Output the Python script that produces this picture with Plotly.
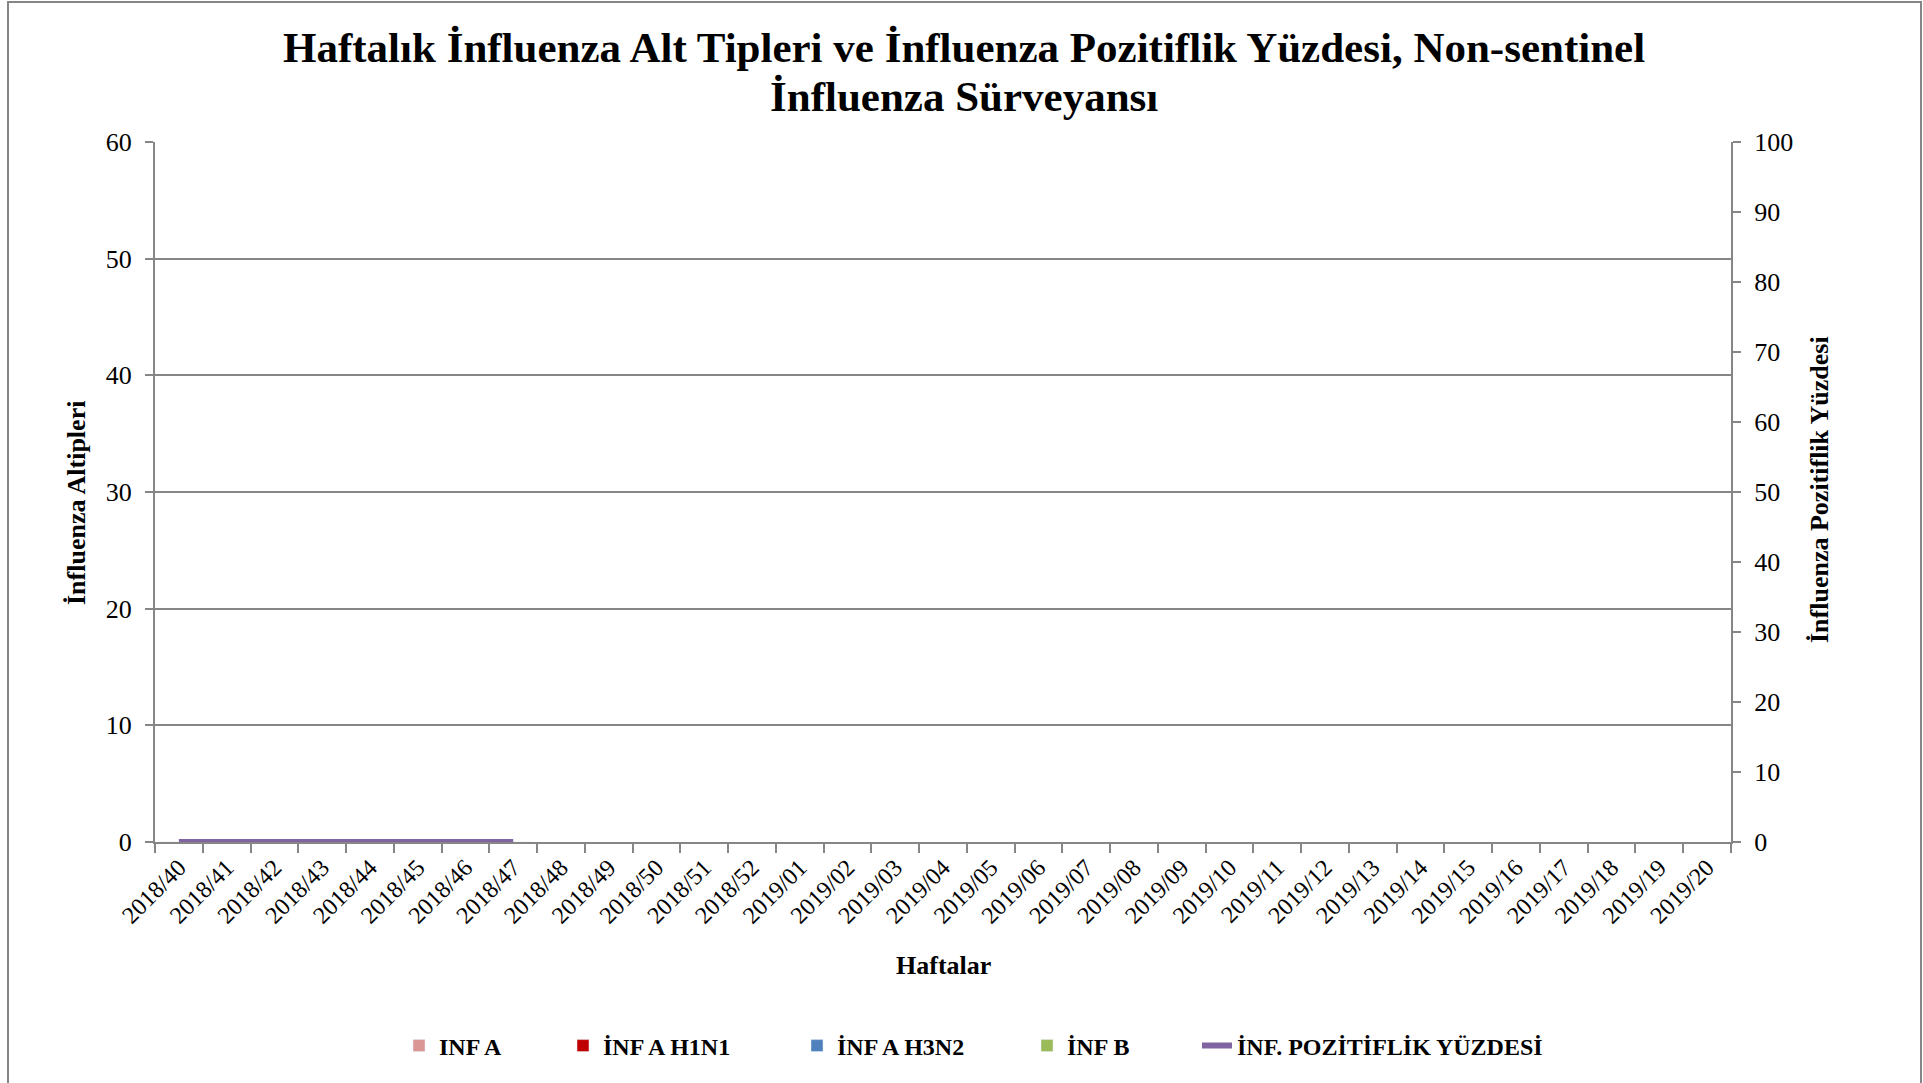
import plotly.graph_objects as go

weeks = [f"2018/{w}" for w in range(40, 53)] + [f"2019/{w:02d}" for w in range(1, 21)]

inf_a = [0, 0, 0, 0, 0, 0, 0, 0] + [None] * 25
inf_a_h1n1 = [0, 0, 0, 0, 0, 0, 0, 0] + [None] * 25
inf_a_h3n2 = [0, 0, 0, 0, 0, 0, 0, 0] + [None] * 25
inf_b = [0, 0, 0, 0, 0, 0, 0, 0] + [None] * 25
positivity = [0, 0, 0, 0, 0, 0, 0, 0] + [None] * 25

title_lines = ["Haftalık İnfluenza Alt Tipleri ve İnfluenza Pozitiflik Yüzdesi, Non-sentinel",
               "İnfluenza Sürveyansı"]

FONT = "Liberation Serif"
GRAY = "#868686"

L, R, T, B = 155, 192, 142, 241
W, H = 1923, 1083
pw = W - L - R
ph = H - T - B

def px(x):
    return (x - L) / pw

def py(y):
    return (H - B - y) / ph

fig = go.Figure()
fig.add_bar(x=weeks, y=inf_a, name="INF A", marker_color="#D99694", legend="legend")
fig.add_bar(x=weeks, y=inf_a_h1n1, name="İNF A H1N1", marker_color="#C00000", legend="legend2")
fig.add_bar(x=weeks, y=inf_a_h3n2, name="İNF A H3N2", marker_color="#4F81BD", legend="legend3")
fig.add_bar(x=weeks, y=inf_b, name="İNF B", marker_color="#9BBB59", legend="legend4")
fig.add_scatter(x=weeks, y=positivity, name="İNF. POZİTİFLİK YÜZDESİ", yaxis="y2",
                mode="lines", line=dict(color="#8064A2", width=6), connectgaps=False,
                legend="legend5")

text_starts = [441, 605, 839, 1069, 1239]
legends = {}
for i, xs in enumerate(text_starts):
    key = "legend" if i == 0 else f"legend{i + 1}"
    legends[key] = dict(orientation="h", x=px(xs - 42), xanchor="left", y=py(1046), yanchor="middle",
                        font=dict(size=24, weight="bold"), bgcolor="rgba(0,0,0,0)")

fig.update_layout(
    width=W, height=H,
    margin=dict(l=L, r=R, t=T, b=B, autoexpand=False),
    paper_bgcolor="white", plot_bgcolor="white",
    font=dict(family=FONT, color="black", size=24),
    barmode="group",
    xaxis=dict(type="category", tickson="boundaries", ticks="outside", ticklen=9, tickcolor=GRAY,
               tickwidth=2, showline=True, linecolor=GRAY, linewidth=2, tickangle=-45,
               tickfont=dict(size=24), showgrid=False),
    yaxis=dict(range=[0, 60], dtick=10, ticks="outside", ticklen=8, tickcolor=GRAY, tickwidth=2,
               showline=True, linecolor=GRAY, linewidth=2, showgrid=True, gridcolor=GRAY,
               gridwidth=2, zeroline=False, tickfont=dict(size=26), ticklabelstandoff=8),
    yaxis2=dict(range=[0, 100], dtick=10, overlaying="y", side="right", ticks="outside", ticklen=8,
                tickcolor=GRAY, tickwidth=2, showline=True, linecolor=GRAY, linewidth=2,
                showgrid=False, zeroline=False, tickfont=dict(size=26), ticklabelstandoff=8),
    showlegend=True,
    **legends,
)

for line, yc in zip(title_lines, [47, 96]):
    fig.add_annotation(text=line, xref="paper", yref="paper", x=px(964), y=py(yc),
                       xanchor="center", yanchor="middle",
                       showarrow=False, font=dict(size=43, weight="bold"))
fig.add_annotation(text="Haftalar", xref="paper", yref="paper", x=0.5, y=py(965),
                   xanchor="center", yanchor="middle",
                   showarrow=False, font=dict(size=26, weight="bold"))
fig.add_annotation(text="İnfluenza Altipleri", xref="paper", yref="paper", x=px(76), y=py(503),
                   xanchor="center", yanchor="middle",
                   showarrow=False, textangle=-90, font=dict(size=26, weight="bold"))
fig.add_annotation(text="İnfluenza Pozitiflik Yüzdesi", xref="paper", yref="paper", x=px(1819), y=py(490),
                   xanchor="center", yanchor="middle",
                   showarrow=False, textangle=-90, font=dict(size=26, weight="bold"))

fig.add_shape(type="rect", xref="paper", yref="paper", x0=px(8), x1=px(1921), y0=py(1095), y1=py(2),
              line=dict(color=GRAY, width=2), fillcolor="rgba(0,0,0,0)", layer="below")

fig.write_html("out.html", config={"displayModeBar": False},
               post_script="document.body.style.margin='0';document.body.style.overflow='hidden';")
